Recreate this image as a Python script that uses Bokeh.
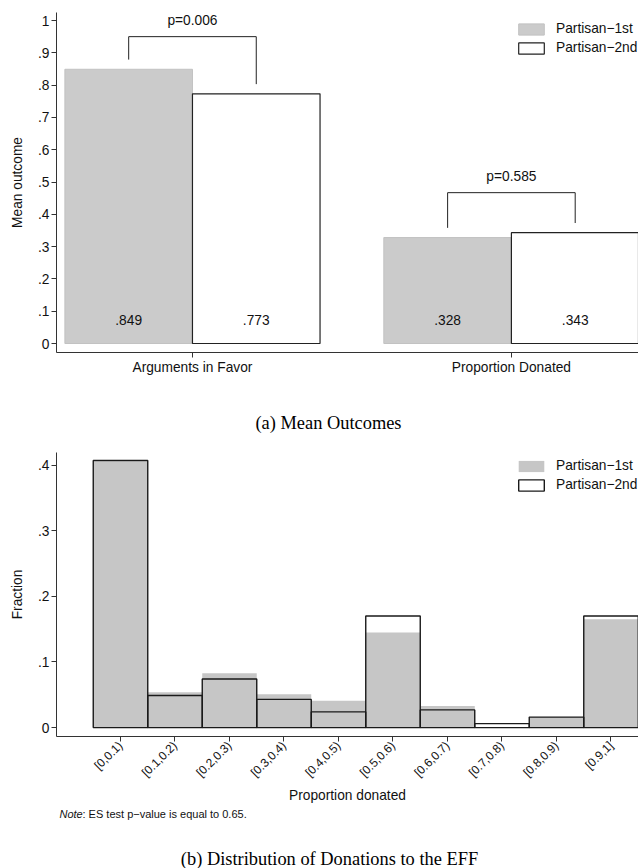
from bokeh.plotting import figure
from bokeh.models import Range1d, FixedTicker, Legend, LegendItem, Label, ColumnDataSource
from bokeh.layouts import column
from bokeh.core.properties import value
from bokeh.embed import file_html
from bokeh.resources import INLINE
import math

# ---------------- data ----------------
categories = ["Arguments in Favor", "Proportion Donated"]
series_names = ["Partisan\u22121st", "Partisan\u22122nd"]
mean_first = [0.849, 0.328]
mean_second = [0.773, 0.343]
p_labels = ["p=0.006", "p=0.585"]

bin_labels = ["[0,0.1)", "[0.1,0.2)", "[0.2,0.3)", "[0.3,0.4)", "[0.4,0.5)",
              "[0.5,0.6)", "[0.6,0.7)", "[0.7,0.8)", "[0.8,0.9)", "[0.9,1]"]
frac_first = [0.406, 0.054, 0.083, 0.051, 0.041, 0.145, 0.033, 0.0, 0.016, 0.165]
frac_second = [0.407, 0.049, 0.074, 0.043, 0.024, 0.170, 0.027, 0.006, 0.016, 0.170]

y_ticks_top = [0, 0.1, 0.2, 0.3, 0.4, 0.5, 0.6, 0.7, 0.8, 0.9, 1.0]
y_tick_labels_top = ["0", ".1", ".2", ".3", ".4", ".5", ".6", ".7", ".8", ".9", "1"]
y_ticks_bot = [0, 0.1, 0.2, 0.3, 0.4]
y_tick_labels_bot = ["0", ".1", ".2", ".3", ".4"]

caption_a = "(a) Mean Outcomes"
caption_b = "(b) Distribution of Donations to the EFF"
note_head = "Note"
note_body = ": ES test p\u2212value is equal to 0.65."

FONT = "Liberation Sans"
SERIF = "Liberation Serif"
FS = "13.75px"
GRAY1 = "#cbcbcb"
GRAY2 = "#c6c6c6"
AX = "#333333"
TXT = "#111111"
W = 638
LEFT = 56


def style_axes(p):
    for ax in (p.xaxis, p.yaxis):
        ax.axis_line_color = AX
        ax.axis_line_width = 1
        ax.major_tick_line_color = AX
        ax.major_tick_out = 5
        ax.major_tick_in = 0
        ax.minor_tick_line_color = None
        ax.major_label_text_font = FONT
        ax.major_label_text_font_size = FS
        ax.major_label_text_color = TXT
        ax.axis_label_text_font = FONT
        ax.axis_label_text_font_size = FS
        ax.axis_label_text_font_style = "normal"
        ax.axis_label_text_color = TXT
        ax.major_label_standoff = 2
    p.xgrid.grid_line_color = None
    p.ygrid.grid_line_color = None
    p.outline_line_color = None


def add_legend(p, r1, r2, x, y):
    leg = Legend(items=[LegendItem(label=series_names[0], renderers=[r1]),
                        LegendItem(label=series_names[1], renderers=[r2])],
                 location=(x, y), padding=0, margin=0, spacing=4,
                 glyph_width=32, glyph_height=14, label_height=14,
                 label_standoff=9, border_line_color=None,
                 background_fill_alpha=0,
                 label_text_font=FONT, label_text_font_size=FS,
                 label_text_color=TXT)
    p.add_layout(leg)


def blank(h):
    # text-only strip; its frame spans page x from LEFT to W, so x = page pixel
    f = figure(width=W, height=h, output_backend="svg", toolbar_location=None,
               x_range=Range1d(LEFT, W), y_range=Range1d(h, 0),
               min_border_left=LEFT, min_border_right=0, min_border_top=0,
               min_border_bottom=0, x_axis_location=None, y_axis_location=None)
    f.grid.visible = False
    f.outline_line_color = None
    return f


# ---------------- top chart ----------------
groups = [1, 2]
p1 = figure(width=W, height=390, output_backend="svg", toolbar_location=None,
            x_range=Range1d(0.5737, 2.3985), y_range=Range1d(-0.02786, 1.02477),
            min_border_left=LEFT, min_border_right=0, min_border_top=12,
            min_border_bottom=38)
style_axes(p1)

src1 = ColumnDataSource(dict(x=[g - 0.2 for g in groups], top=mean_first,
                             lab=[f"{v:.3f}".lstrip("0") for v in mean_first]))
src2 = ColumnDataSource(dict(x=[g + 0.2 for g in groups], top=mean_second,
                             lab=[f"{v:.3f}".lstrip("0") for v in mean_second]))
r1 = p1.vbar(x="x", top="top", bottom=0, width=0.4, source=src1,
             fill_color=GRAY1, line_color="#c2c2c2", line_width=1)
r2 = p1.vbar(x="x", top="top", bottom=0, width=0.4, source=src2,
             fill_color="white", line_color="#222222", line_width=1.2)

label_y = 0.074
for src in (src1, src2):
    p1.text(x="x", y=label_y, text="lab", source=src, text_align="center",
            text_baseline="middle", text_font=value(FONT), text_font_size=FS,
            text_color=TXT)

# significance brackets
bracket_top = [0.95, 0.467]
for g, a, b, t, pl in zip(groups, mean_first, mean_second, bracket_top, p_labels):
    p1.segment(x0=[g - 0.2, g - 0.2, g + 0.2], y0=[a + 0.03, t, b + 0.03],
               x1=[g - 0.2, g + 0.2, g + 0.2], y1=[t, t, t],
               line_color="#222222", line_width=1)
    p1.add_layout(Label(x=g, y=t + 0.05, text=pl, text_align="center",
                        text_baseline="middle", text_font=FONT,
                        text_font_size=FS, text_color=TXT))

p1.yaxis.ticker = FixedTicker(ticks=y_ticks_top)
p1.yaxis.major_label_overrides = {t: l for t, l in zip(y_ticks_top, y_tick_labels_top)}
p1.xaxis.ticker = FixedTicker(ticks=groups)
p1.xaxis.major_label_overrides = {g: c for g, c in zip(groups, categories)}
p1.yaxis.axis_label = "Mean outcome"
p1.yaxis.axis_label_standoff = 10

add_legend(p1, r1, r2, 459, 297)

cap1 = blank(50)
cap1.add_layout(Label(x=328, y=32, text=caption_a, text_align="center",
                      text_baseline="middle", text_font=SERIF, text_font_size="18.4px",
                      text_color="#000000"))

# ---------------- bottom chart ----------------
bins = list(range(len(bin_labels)))
p2 = figure(width=W, height=365, output_backend="svg", toolbar_location=None,
            x_range=Range1d(-1.1743, 9.5046), y_range=Range1d(-0.01357, 0.4193),
            min_border_left=LEFT, min_border_right=0, min_border_top=12,
            min_border_bottom=66)
style_axes(p2)

b1 = p2.vbar(x=bins, top=frac_first, bottom=0, width=1, fill_color=GRAY2,
             line_color=None)
b2 = p2.vbar(x=bins, top=frac_second, bottom=0, width=1, fill_color="white",
             fill_alpha=0, line_color="#1a1a1a", line_width=1.4)

p2.yaxis.ticker = FixedTicker(ticks=y_ticks_bot)
p2.yaxis.major_label_overrides = {t: l for t, l in zip(y_ticks_bot, y_tick_labels_bot)}
p2.xaxis.ticker = FixedTicker(ticks=bins)
p2.xaxis.major_label_overrides = {b: l for b, l in zip(bins, bin_labels)}
p2.xaxis.major_label_orientation = math.pi / 4
p2.xaxis.major_label_text_font_size = "12px"
p2.xaxis.axis_label = "Proportion donated"
p2.xaxis.axis_label_standoff = 0
p2.yaxis.axis_label = "Fraction"
p2.yaxis.axis_label_standoff = 10

add_legend(p2, b1, b2, 459, 244)

cap2 = blank(63)
cap2.add_layout(Label(x=59, y=8, text=note_head, text_align="left",
                      text_baseline="middle", text_font=FONT, text_font_style="italic",
                      text_font_size="11px", text_color=TXT))
cap2.add_layout(Label(x=59, y=8, x_offset=23, text=note_body, text_align="left",
                      text_baseline="middle", text_font=FONT,
                      text_font_size="11px", text_color=TXT))
cap2.add_layout(Label(x=329, y=53, text=caption_b, text_align="center",
                      text_baseline="middle", text_font=SERIF, text_font_size="18.4px",
                      text_color="#000000"))

layout = column(p1, cap1, p2, cap2, spacing=0)
open("out.html", "w").write(file_html(layout, INLINE))
